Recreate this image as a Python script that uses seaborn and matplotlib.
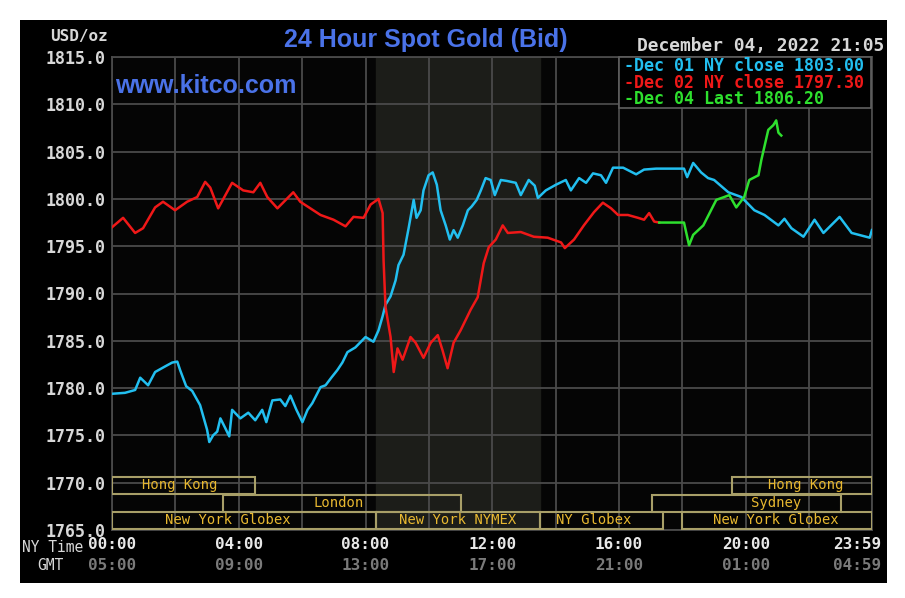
import matplotlib
matplotlib.use("Agg")
import matplotlib.pyplot as plt
from matplotlib.patches import Rectangle
import matplotlib.transforms as mtransforms
import seaborn as sns
import pandas as pd

# ---------------- data ----------------
dec01_time = [0.00, 0.41, 0.73, 0.89, 1.14, 1.36, 1.68, 1.90, 2.06, 2.15, 2.34, 2.53, 2.78, 3.00, 3.07,
              3.19, 3.32, 3.42, 3.57, 3.70, 3.79, 4.05, 4.30, 4.52, 4.74, 4.87, 5.06, 5.31, 5.47, 5.63,
              5.82, 6.01, 6.17, 6.32, 6.58, 6.74, 6.92, 7.11, 7.27, 7.43, 7.68, 8.00, 8.25, 8.41, 8.54,
              8.63, 8.79, 8.95, 9.04, 9.20, 9.36, 9.52, 9.61, 9.74, 9.83, 9.99, 10.12, 10.25, 10.37,
              10.53, 10.66, 10.78, 10.91, 11.07, 11.23, 11.35, 11.51, 11.64, 11.79, 11.95, 12.08, 12.27,
              12.46, 12.74, 12.90, 13.15, 13.34, 13.44, 13.69, 14.01, 14.32, 14.48, 14.74, 14.96, 15.18,
              15.43, 15.59, 15.81, 16.13, 16.54, 16.79, 17.17, 17.64, 18.05, 18.15, 18.34, 18.59, 18.81,
              19.00, 19.45, 19.86, 20.27, 20.59, 21.03, 21.22, 21.44, 21.82, 22.17, 22.45, 22.96, 23.34,
              23.91, 23.98]
dec01_price = [1779.4, 1779.5, 1779.8, 1781.1, 1780.3, 1781.7, 1782.3, 1782.7, 1782.8, 1781.9, 1780.2,
               1779.7, 1778.2, 1775.6, 1774.3, 1775.0, 1775.4, 1776.8, 1775.8, 1774.9, 1777.7, 1776.8,
               1777.4, 1776.6, 1777.7, 1776.4, 1778.7, 1778.8, 1778.1, 1779.2, 1777.7, 1776.4, 1777.7,
               1778.4, 1780.1, 1780.3, 1781.1, 1781.9, 1782.7, 1783.8, 1784.3, 1785.4, 1784.9, 1786.1,
               1787.6, 1788.8, 1789.7, 1791.4, 1793.0, 1794.1, 1796.9, 1799.9, 1798.0, 1798.8, 1800.9,
               1802.5, 1802.8, 1801.5, 1798.8, 1797.2, 1795.7, 1796.7, 1795.9, 1797.2, 1798.8, 1799.2,
               1799.9, 1800.9, 1802.2, 1802.0, 1800.4, 1802.0, 1801.9, 1801.7, 1800.4, 1802.0, 1801.4,
               1800.1, 1800.9, 1801.5, 1802.0, 1800.9, 1802.2, 1801.7, 1802.7, 1802.5, 1801.7, 1803.3,
               1803.3, 1802.6, 1803.1, 1803.2, 1803.2, 1803.2, 1802.3, 1803.8, 1802.8, 1802.2, 1802.0,
               1800.7, 1800.2, 1798.8, 1798.3, 1797.2, 1797.9, 1796.9, 1796.0, 1797.8, 1796.4, 1798.1,
               1796.4, 1795.9, 1796.7]

dec02_time = [0.00, 0.35, 0.73, 0.98, 1.36, 1.61, 1.99, 2.37, 2.69, 2.94, 3.10, 3.35, 3.79, 4.14, 4.46,
              4.68, 4.90, 5.22, 5.72, 5.94, 6.26, 6.58, 6.99, 7.37, 7.62, 7.94, 8.16, 8.41, 8.54, 8.57,
              8.63, 8.79, 8.89, 9.01, 9.17, 9.42, 9.58, 9.83, 10.06, 10.28, 10.43, 10.59, 10.78, 11.00,
              11.32, 11.54, 11.73, 11.89, 12.11, 12.33, 12.49, 12.90, 13.31, 13.75, 14.17, 14.29, 14.58,
              14.89, 15.21, 15.49, 15.75, 15.97, 16.28, 16.60, 16.79, 16.95, 17.11, 17.27]
dec02_price = [1797.0, 1798.0, 1796.4, 1796.9, 1799.1, 1799.7, 1798.8, 1799.7, 1800.2, 1801.8, 1801.2,
               1799.0, 1801.7, 1800.9, 1800.7, 1801.7, 1800.2, 1799.0, 1800.7, 1799.7, 1799.0, 1798.3,
               1797.8, 1797.1, 1798.1, 1798.0, 1799.4, 1800.0, 1798.5, 1793.5, 1788.6, 1785.4, 1781.7,
               1784.2, 1783.0, 1785.4, 1784.8, 1783.2, 1784.8, 1785.6, 1784.0, 1782.1, 1784.8, 1786.1,
               1788.3, 1789.6, 1793.2, 1794.9, 1795.7, 1797.2, 1796.4, 1796.5, 1796.0, 1795.9, 1795.4,
               1794.8, 1795.7, 1797.2, 1798.6, 1799.6, 1799.0, 1798.3, 1798.3, 1798.0, 1797.8, 1798.5,
               1797.6, 1797.5]

dec04_time = [17.27, 18.05, 18.21, 18.34, 18.66, 19.07, 19.32, 19.48, 19.70, 19.95, 20.11, 20.40, 20.49,
              20.71, 20.87, 20.96, 21.03, 21.12]
dec04_price = [1797.5, 1797.5, 1795.1, 1796.2, 1797.2, 1799.9, 1800.2, 1800.4, 1799.1, 1800.2, 1802.0,
               1802.5, 1804.1, 1807.3, 1807.8, 1808.3, 1807.0, 1806.7]

series_names = ["Dec 01", "Dec 02", "Dec 04"]
legend_labels = ["-Dec 01 NY close 1803.00", "-Dec 02 NY close 1797.30", "-Dec 04 Last 1806.20"]

y_ticks = [1765, 1770, 1775, 1780, 1785, 1790, 1795, 1800, 1805, 1810, 1815]
x_ticks = [0, 4, 8, 12, 16, 20, 23.983]
ny_labels = ["00:00", "04:00", "08:00", "12:00", "16:00", "20:00", "23:59"]
gmt_labels = ["05:00", "09:00", "13:00", "17:00", "21:00", "01:00", "04:59"]

nymex_span = (8.33, 13.5)

# sessions: name, start, end, row (0 = bottom), label anchor time
session_names = ["Hong Kong", "Hong Kong", "London", "Sydney",
                 "New York Globex", "New York NYMEX", "NY Globex", "New York Globex"]
session_start = [0.0, 19.57, 3.5, 17.05, 0.0, 8.33, 13.5, 18.0]
session_end = [4.5, 23.983, 11.0, 23.0, 8.33, 13.5, 17.4, 23.983]
session_row = [2, 2, 1, 1, 0, 0, 0, 0]
session_label_t = [2.15, 21.9, 7.15, 20.95, 3.65, 10.9, 15.2, 20.95]

# ---------------- styling ----------------
colors = {"Dec 01": "#22BFF0", "Dec 02": "#F01818", "Dec 04": "#2EE02E"}
mono = "DejaVu Sans Mono"

df = pd.concat([
    pd.DataFrame({"time": dec01_time, "price": dec01_price, "series": "Dec 01"}),
    pd.DataFrame({"time": dec02_time, "price": dec02_price, "series": "Dec 02"}),
    pd.DataFrame({"time": dec04_time, "price": dec04_price, "series": "Dec 04"}),
], ignore_index=True)

fig = plt.figure(figsize=(9.05, 5.98), dpi=100, facecolor="white")
# black panel
fig.patches.append(Rectangle((20 / 905, 1 - 583 / 598), 867 / 905, 563 / 598,
                             transform=fig.transFigure, facecolor="black",
                             edgecolor="none", zorder=-10))

ax = fig.add_axes([112 / 905, 1 - 530 / 598, 760 / 905, 473 / 598])
ax.set_zorder(1)
ax.set_facecolor("#050505")

ax.axvspan(nymex_span[0], nymex_span[1], color="#1C1D19", zorder=0)

sns.lineplot(data=df, x="time", y="price", hue="series", palette=colors,
             estimator=None, sort=False, linewidth=1.8, legend=False, ax=ax, zorder=3)

ax.set_xlim(0, 23.983)
ax.set_ylim(1765, 1815)
ax.set_xticks(x_ticks)
ax.set_xticklabels(ny_labels)
ax.set_yticks(y_ticks)
ax.set_yticklabels([f"{v:.1f}" for v in y_ticks])
ax.set_xticks(list(range(0, 24, 2)), minor=True)
ax.grid(True, which="both", axis="x", color="#4A4A4A", linewidth=1.3, zorder=1)
ax.grid(True, which="major", axis="y", color="#4A4A4A", linewidth=1.3, zorder=1)
ax.set_axisbelow(True)
ax.tick_params(which="both", length=0)
ax.tick_params(axis="y", pad=5, labelcolor="#D8D8D8", labelsize=12)
ax.tick_params(axis="x", pad=5, labelcolor="#E8E8E8", labelsize=11.5)
for lab in ax.get_yticklabels() + ax.get_xticklabels():
    lab.set_fontfamily(mono)
    lab.set_fontweight("bold")
# last label sits inside the panel (right-aligned just past the axes edge)
last_lab = ax.get_xticklabels()[-1]
last_lab.set_horizontalalignment("right")
last_lab.set_transform(last_lab.get_transform() +
                       mtransforms.ScaledTranslation(9 / 100, 0, fig.dpi_scale_trans))
ax.set_xlabel("")
ax.set_ylabel("")
for s in ax.spines.values():
    s.set_color("#4A4A4A")
    s.set_linewidth(1.3)

# GMT row
trans_x = mtransforms.blended_transform_factory(ax.transData, fig.transFigure)
for i, (t, g) in enumerate(zip(x_ticks, gmt_labels)):
    last = i == len(x_ticks) - 1
    tr = trans_x + mtransforms.ScaledTranslation(9 / 100, 0, fig.dpi_scale_trans) if last else trans_x
    fig.text(t, 1 - 566 / 598, g, transform=tr, ha="right" if last else "center", va="center",
             family=mono, fontweight="bold", fontsize=11.5, color="#7A7A7A")
fig.text(22 / 905, 1 - 548 / 598, "NY Time", ha="left", va="center", family=mono,
         fontsize=10.5, color="#D8D8D8")
fig.text(37 / 905, 1 - 566 / 598, "GMT", ha="left", va="center", family=mono,
         fontsize=10.5, color="#D8D8D8")

# sessions
row_lo = [1765.15, 1766.95, 1768.85]
row_h = 1.75
for name, s0, s1, r, lt in zip(session_names, session_start, session_end, session_row, session_label_t):
    ax.add_patch(Rectangle((s0, row_lo[r]), s1 - s0, row_h, facecolor="none",
                           edgecolor="#A89F68", linewidth=1.5, zorder=4))
    ax.text(lt, row_lo[r] + row_h / 2, name, ha="center", va="center", family=mono,
            fontsize=10, color="#E8B830", zorder=5)

# titles
fig.text(426 / 905, 1 - 40 / 598, "24 Hour Spot Gold (Bid)", ha="center", va="center",
         family="Liberation Sans", fontweight="bold", fontsize=18, color="#4A72E8", zorder=6)
fig.text(115 / 905, 1 - 86 / 598, "www.kitco.com", ha="left", va="center",
         family="Liberation Sans", fontweight="bold", fontsize=18, color="#4A72E8", zorder=6)
fig.text(108 / 905, 1 - 37 / 598, "USD/oz", ha="right", va="center", family=mono,
         fontweight="bold", fontsize=11.5, color="#D8D8D8", zorder=6)
fig.text(884 / 905, 1 - 46 / 598, "December 04, 2022 21:05", ha="right", va="center",
         family=mono, fontweight="bold", fontsize=12.9, color="#D8D8D8", zorder=6)

# legend box
fig.patches.append(Rectangle((619 / 905, 1 - 108 / 598), 252 / 905, 51 / 598,
                             transform=fig.transFigure, facecolor="black",
                             edgecolor="#606060", linewidth=1.2, zorder=5))
for i, (nm, lab) in enumerate(zip(series_names, legend_labels)):
    fig.text(624 / 905, 1 - (66 + 16.5 * i) / 598, lab, ha="left", va="center", family=mono,
             fontweight="bold", fontsize=12, color=colors[nm], zorder=6)

fig.savefig("out.png", dpi=100, facecolor="white")
